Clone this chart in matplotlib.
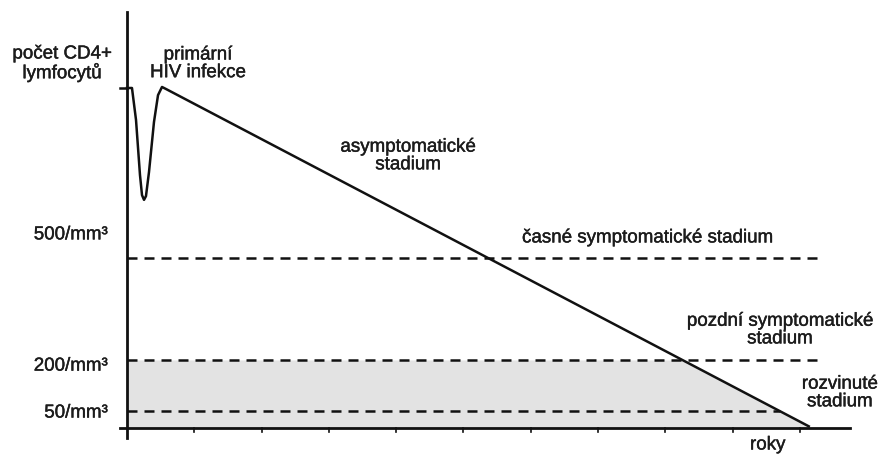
import numpy as np
import matplotlib
matplotlib.use("Agg")
import matplotlib.pyplot as plt
import matplotlib.patheffects as pe

plt.rcParams["font.family"] = ["Liberation Sans", "DejaVu Sans"]

# CD4+ count over time (years)
years = [0.0, 0.074, 0.134, 0.193, 0.223, 0.253, 0.282, 0.327, 0.401, 0.461, 0.52, 0.58, 10.13]
cd4 = [1000, 1000, 906, 744, 685, 671, 682, 753, 900, 979, 1003, 997, 5]

# threshold levels and how far their dashed lines run
levels = [500, 200, 50]
level_ends = [10.33, 10.33, 9.70]
level_labels = ["500/mm³", "200/mm³", "50/mm³"]
level_label_y = [568, 182, 44]

year_ticks = [1, 2, 3, 4, 5, 6, 7, 8, 9, 10]

TXT = "#1c1c1c"
FS = 13.5
# scanned print looks a bit heavier than the plain font
bold_fx = [pe.withStroke(linewidth=0.3, foreground=TXT)]

fig = plt.figure(figsize=(8.85, 4.57), dpi=100)
ax = fig.add_axes([0, 0, 1, 1])
ax.set_xlim(-1.887, 11.263)
ax.set_ylim(-85.3, 1258.8)

# shaded zone below 200/mm3
xs = np.linspace(0, years[-1], 800)
line_y = np.interp(xs, years, cd4)
ax.fill_between(xs, 0, np.minimum(200, line_y), color="#e3e3e3", lw=0, zorder=1)

for lvl, xe in zip(levels, level_ends):
    ax.plot([0, xe], [lvl, lvl], color="#111111", lw=1.8,
            linestyle=(0, (4, 2.8)), zorder=2)

ax.plot(years, cd4, color="#111111", lw=1.8, solid_joinstyle="round", zorder=3)

# axes drawn by hand
ax.plot([0, 0], [-30, 1224], color="#111111", lw=2, zorder=4)
ax.plot([-0.1, 10.74], [0, 0], color="#111111", lw=2, zorder=4)
ax.plot([-0.1, 0], [1000, 1000], color="#111111", lw=1.8, zorder=4)
for t in year_ticks:
    ax.plot([t, t], [0, -12], color="#111111", lw=1.2, zorder=4)
ax.axis("off")


def label(x, y, s, ha="center"):
    ax.text(x, y, s, ha=ha, va="center", fontsize=FS, color=TXT,
            linespacing=1.05, path_effects=bold_fx)


for lab, ly in zip(level_labels, level_label_y):
    label(-0.28, ly, lab, ha="right")

label(-0.966, 1071, "počet CD4+\nlymfocytů")
label(1.055, 1071, "primární\nHIV infekce")
label(4.175, 800, "asymptomatické\nstadium")
label(5.87, 559, "časné symptomatické stadium", ha="left")
label(9.70, 288, "pozdní symptomatické\nstadium")
label(10.59, 103, "rozvinuté\nstadium")
label(9.52, -50, "roky")

fig.savefig("out.png", dpi=100)
